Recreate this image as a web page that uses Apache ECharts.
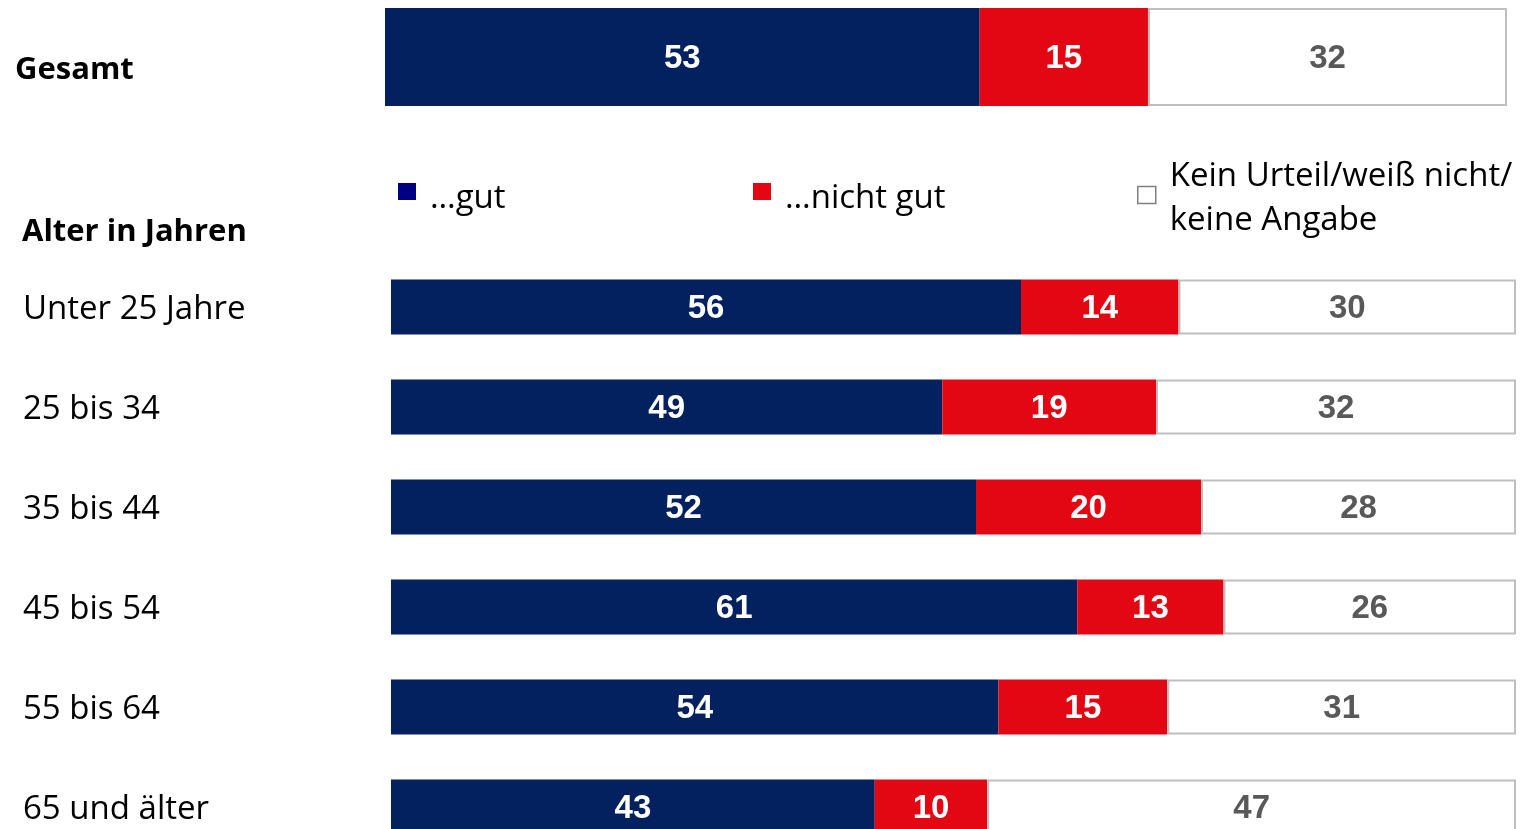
<!DOCTYPE html>
<html><head><meta charset="utf-8">
<script src="https://cdn.jsdelivr.net/npm/echarts@6/dist/echarts.min.js"></script>
<style>html,body{margin:0;padding:0;background:#fff;overflow:hidden}#c{width:1521px;height:900px}</style>
</head><body><div id="c"></div>
<script>
const totalCategory = ['Gesamt'];
const totalGut = [53];
const totalNichtGut = [15];
const totalKeinUrteil = [32];

const ageCategories = ['Unter 25 Jahre', '25 bis 34', '35 bis 44', '45 bis 54', '55 bis 64', '65 und älter'];
const ageGut = [56, 49, 52, 61, 54, 43];
const ageNichtGut = [14, 19, 20, 13, 15, 10];
const ageKeinUrteil = [30, 32, 28, 26, 31, 47];

const seriesNames = ['…gut', '…nicht gut', 'Kein Urteil/weiß nicht/\nkeine Angabe'];
const sectionTitle = 'Alter in Jahren';

const NAVY = '#03215F', RED = '#E30613', GREY_BORDER = '#BFBFBF', GREY_TEXT = '#595959';
const labelWhite = {show: true, position: 'inside', offset: [0, 2], color: '#fff', fontFamily: 'Liberation Sans, Arial', fontWeight: 'bold', fontSize: 33};
const labelGrey = Object.assign({}, labelWhite, {color: GREY_TEXT});

function mkSeries(idx, stack, data, name, style, label, barWidth) {
  return {type: 'bar', name: name, stack: stack, xAxisIndex: idx, yAxisIndex: idx, data: data,
    barWidth: barWidth, itemStyle: style, label: label, emphasis: {disabled: true}, animation: false};
}
const sGut = {color: NAVY};
const sNicht = {color: RED};
const sKein = {color: '#fff', borderColor: GREY_BORDER, borderWidth: 2};

const chart = echarts.init(document.getElementById('c'), null, {renderer: 'canvas'});
const legendFont = {fontFamily: 'Open Sans', fontSize: 33, color: '#000'};
const legendText = {
  rich: {
    single: Object.assign({}, legendFont, {padding: [14, 0, 0, 9]}),
    mfirst: Object.assign({}, legendFont, {padding: [7, 0, 0, 9]}),
    next: Object.assign({}, legendFont, {padding: [11, 0, 0, 9]})
  }
};
const legendFormatter = name => {
  const lines = name.split('\n');
  if (lines.length === 1) return '{single|' + name + '}';
  return lines.map((l, i) => '{' + (i === 0 ? 'mfirst' : 'next') + '|' + l + '}').join('\n');
};
chart.setOption({
  animation: false,
  grid: [
    {left: 385, top: 8, width: 1122, height: 98},
    {left: 391, top: 257, width: 1125, height: 600}
  ],
  xAxis: [
    {gridIndex: 0, type: 'value', min: 0, max: 100, show: false},
    {gridIndex: 1, type: 'value', min: 0, max: 100, show: false}
  ],
  yAxis: [
    {gridIndex: 0, type: 'category', data: totalCategory, axisLine: {show: false}, axisTick: {show: false},
     axisLabel: {margin: 370, align: 'left', formatter: v => '{a|' + v + '}',
       rich: {a: {fontFamily: 'Open Sans', fontWeight: 'bold', fontSize: 31, color: '#000', padding: [26, 0, 0, 0]}}}},
    {gridIndex: 1, type: 'category', inverse: true, data: ageCategories, axisLine: {show: false}, axisTick: {show: false},
     axisLabel: {margin: 368, align: 'left', formatter: v => '{a|' + v + '}',
       rich: {a: {fontFamily: 'Open Sans', fontSize: 33, color: '#000', padding: [6, 0, 0, 0]}}}}
  ],
  legend: [
    {left: 393, top: 177, icon: 'rect', itemWidth: 18, itemHeight: 17, itemGap: 0, formatter: legendFormatter, data: [{name: seriesNames[0], itemStyle: {color: '#000080'}}], textStyle: legendText, selectedMode: false},
    {left: 748, top: 177, icon: 'rect', itemWidth: 18, itemHeight: 17, itemGap: 0, formatter: legendFormatter, data: [{name: seriesNames[1]}], textStyle: legendText, selectedMode: false},
    {left: 1132, top: 155, icon: 'rect', itemWidth: 18, itemHeight: 17, itemGap: 0, formatter: legendFormatter, data: [{name: seriesNames[2], itemStyle: {color: '#fff', borderColor: '#7F7F7F', borderWidth: 1.5}}], textStyle: legendText, selectedMode: false}
  ],
  graphic: [
    {type: 'text', left: 22, top: 217, style: {text: sectionTitle, fontFamily: 'Open Sans', fontWeight: 'bold', fontSize: 31, fill: '#000'}}
  ],
  series: [
    mkSeries(0, 't', totalGut, seriesNames[0], sGut, labelWhite, '100%'),
    mkSeries(0, 't', totalNichtGut, seriesNames[1], sNicht, labelWhite, '100%'),
    mkSeries(0, 't', totalKeinUrteil, seriesNames[2], sKein, labelGrey, '100%'),
    mkSeries(1, 'a', ageGut, seriesNames[0], sGut, labelWhite, 55),
    mkSeries(1, 'a', ageNichtGut, seriesNames[1], sNicht, labelWhite, 55),
    mkSeries(1, 'a', ageKeinUrteil, seriesNames[2], sKein, labelGrey, 55)
  ]
});
</script></body></html>
